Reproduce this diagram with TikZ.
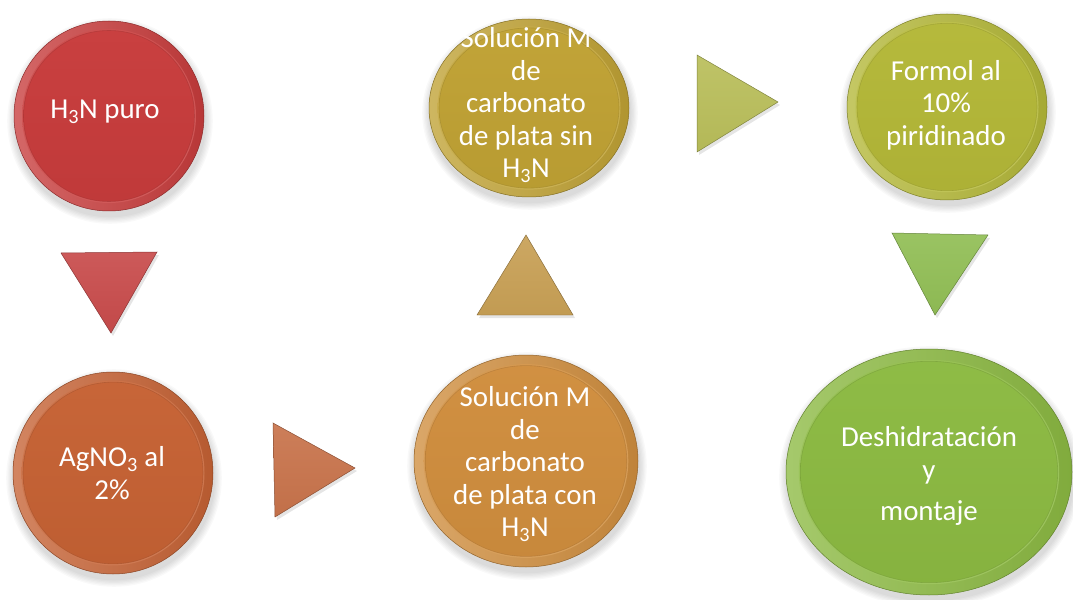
\documentclass[tikz,border=0pt]{standalone}
\usepackage{fontspec}
\setmainfont{Carlito}

% disc colours
\definecolor{discRed}{RGB}{200,60,60}
\definecolor{discOrange}{RGB}{198,98,52}
\definecolor{discAmber}{RGB}{208,142,62}
\definecolor{discGold}{RGB}{192,162,52}
\definecolor{discOlive}{RGB}{180,184,56}
\definecolor{discGreen}{RGB}{140,186,66}
% pointer colours
\definecolor{triRed}{RGB}{200,75,75}
\definecolor{triOrange}{RGB}{200,115,75}
\definecolor{triTan}{RGB}{200,160,85}
\definecolor{triOlive}{RGB}{185,190,90}
\definecolor{triGreen}{RGB}{145,190,85}

\tikzset{
  disctext/.style={text=white, align=center, inner sep=0pt,
    font=\fontsize{29}{32.5}\selectfont},
  pointer/.style={draw=#1!70!black, line width=0.5pt,
    top color=#1!92!white, bottom color=#1!97!black},
  pointershadow/.style={fill=black, opacity=0.10},
}

% a glossy button: centre x, centre y, radius x, radius y, colour
\newcommand\glossydisc[5]{%
  \begin{scope}[shift={(#1,#2)}]
    \foreach \k in {1,...,6}
      \fill[black, opacity=0.025] (1,5) ellipse ({#3+\k*1.3} and {#4+\k*1.3});
    \shade[left color=#5!78!white, right color=#5!92!black]
      (0,0) ellipse ({#3} and {#4});
    \shade[top color=#5!90!white, bottom color=#5!85!white]
      (0,0) ellipse ({0.9*#3+1.5} and {0.9*#4+1.5});
    \shade[top color=#5!98!white, bottom color=#5!96!black]
      (0,0) ellipse ({0.9*#3} and {0.9*#4});
    \draw[#5!80!black, opacity=0.5, line width=0.6pt]
      (0,0) ellipse ({0.9*#3} and {0.9*#4});
    \draw[#5!70!black, line width=0.5pt] (0,0) ellipse ({#3} and {#4});
  \end{scope}}

\begin{document}
\begin{tikzpicture}[x=1bp, y=-1bp]
  \useasboundingbox (0,0) rectangle (1073,600);
  \fill[white] (0,0) rectangle (1073,600);

  % buttons
  \glossydisc{109}{116}{95}{95}{discRed}
  \glossydisc{113}{473}{100}{101}{discOrange}
  \glossydisc{526}{461}{112}{106}{discAmber}
  \glossydisc{529}{108}{100}{89}{discGold}
  \glossydisc{947}{107}{100}{93}{discOlive}
  \glossydisc{929}{472}{143}{123}{discGreen}

  % labels
  \node[disctext] (amonio) at (105,112) {H\textsubscript{3}N puro};
  \node[disctext] (nitrato) at (112,473) {AgNO\textsubscript{3} al\\2\%};
  \node[disctext] (solcon) at (525,464)
    {Solución M\\de\\carbonato\\de plata con\\H\textsubscript{3}N};
  \node[disctext] (solsin) at (526,105)
    {Solución M\\de\\carbonato\\de plata sin\\H\textsubscript{3}N};
  \node[disctext] (formol) at (946,105) {Formol al\\10\%\\piridinado};
  \node[disctext] (montaje) at (929,476) {Deshidratación\\y\\[9bp]montaje};

  % pointers between the steps
  \fill[pointershadow] (63,256) -- (159,255) -- (113,336) -- cycle;
  \path[pointer=triRed] (61,253) -- (157,252) -- (111,333) -- cycle;

  \fill[pointershadow] (275,426) -- (357,471) -- (277,520) -- cycle;
  \path[pointer=triOrange] (273,423) -- (355,468) -- (275,517) -- cycle;

  \fill[pointershadow] (528,238) -- (575,318) -- (479,318) -- cycle;
  \path[pointer=triTan] (526,235) -- (573,315) -- (477,315) -- cycle;

  \fill[pointershadow] (699,58) -- (780,105) -- (699,155) -- cycle;
  \path[pointer=triOlive] (697,55) -- (778,102) -- (697,152) -- cycle;

  \fill[pointershadow] (894,236) -- (990,238) -- (937,318) -- cycle;
  \path[pointer=triGreen] (892,233) -- (988,235) -- (935,315) -- cycle;
\end{tikzpicture}
\end{document}
